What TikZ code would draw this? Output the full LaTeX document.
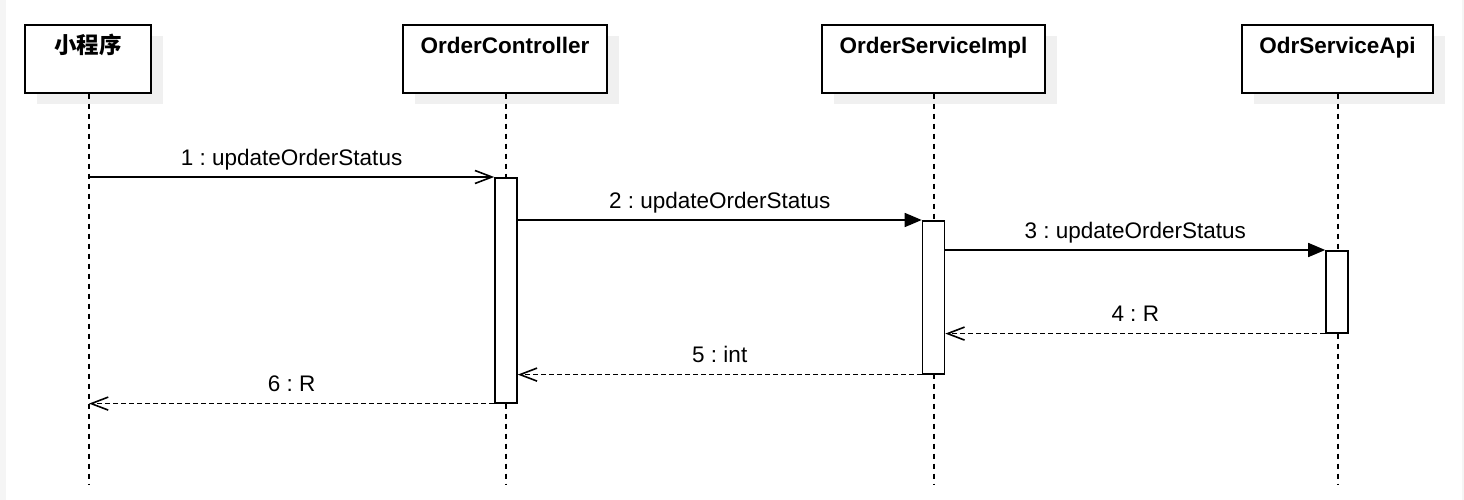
\documentclass[tikz,border=0pt]{standalone}
\usepackage{fontspec}
\setmainfont{Liberation Sans}
\newfontfamily\cjk{Noto Sans CJK SC}
\usetikzlibrary{arrows.meta}
\frenchspacing
\begin{document}
\begin{tikzpicture}[x=1pt,y=-1pt,
  part/.style={draw=black, line width=1.6pt, fill=white, minimum height=68pt, inner sep=0pt, anchor=north},
  shadowbox/.style={fill=black!6, draw=none, minimum height=68pt, inner sep=0pt, anchor=north},
  ptext/.style={anchor=base, inner sep=0pt, font=\fontsize{22.5}{27}\selectfont\bfseries},
  lifeline/.style={line width=1.5pt, dash pattern=on 5pt off 5pt},
  act/.style={draw=black, line width=1.6pt, fill=white, minimum width=22pt, inner sep=0pt, anchor=north},
  msg/.style={line width=1.6pt},
  callmsg/.style={msg, -{Triangle[length=17pt, width=14pt]}},
  asyncmsg/.style={msg, -{Straight Barb[length=17pt, width=13pt]}},
  retmsg/.style={msg, dash pattern=on 5pt off 3pt, -{Straight Barb[length=17pt, width=13pt]}},
  lbl/.style={midway, anchor=base, yshift=12pt, inner sep=0pt, font=\fontsize{22.5}{27}\selectfont\frenchspacing}]
\useasboundingbox (0,0) rectangle (1464,500);
\fill[black!4] (0,0) rectangle (6,500);
\fill[black!4] (1462,0) rectangle (1464,500);

% shadows
\node[shadowbox, minimum width=126pt] (s1) at (100,36) {};
\node[shadowbox, minimum width=204pt] (s2) at (517,36) {};
\node[shadowbox, minimum width=223pt] (s3) at (945.5,36) {};
\node[shadowbox, minimum width=191pt] (s4) at (1349.5,36) {};

% participants
\node[part, minimum width=126pt] (b1) at (88,24) {};
\node[part, minimum width=204pt] (b2) at (505,24) {};
\node[part, minimum width=223pt] (b3) at (933.5,24) {};
\node[part, minimum width=191pt] (b4) at (1337.5,24) {};
\node[ptext] (t1) at (88,54) {\cjk\bfseries 小程序};
\node[ptext] (t2) at (505,54) {OrderController};
\node[ptext] (t3) at (933.5,54) {OrderServiceImpl};
\node[ptext] (t4) at (1337.5,54) {OdrServiceApi};

% lifeline ends
\coordinate (e1) at (89,485);
\coordinate (e2) at (506,485);
\coordinate (e3) at (934,485);
\coordinate (e4) at (1338,485);
\draw[lifeline] (b1.south -| e1) -- (e1);
\draw[lifeline] (b2.south -| e2) -- (e2);
\draw[lifeline] (b3.south -| e3) -- (e3);
\draw[lifeline] (b4.south -| e4) -- (e4);

% activations
\node[act, minimum height=225pt] (a1) at (506,177) {};
\node[act, minimum height=153pt] (a2) at (933.5,220) {};
\node[act, minimum height=82pt] (a3) at (1337,250) {};

% messages
\draw[asyncmsg] (e1 |- a1.north west) -- node[lbl] (m1) {1 : updateOrderStatus} (a1.north west);
\draw[callmsg] (a1.east |- a2.north west) -- node[lbl] (m2) {2 : updateOrderStatus} (a2.north west);
\draw[callmsg] (a2.east |- a3.north west) -- node[lbl] (m3) {3 : updateOrderStatus} (a3.north west);
\draw[retmsg] (a3.south west) -- node[lbl] (m4) {4 : R} (a2.east |- a3.south west);
\draw[retmsg] (a2.south west) -- node[lbl] (m5) {5 : int} (a1.east |- a2.south west);
\draw[retmsg] (a1.south west) -- node[lbl] (m6) {6 : R} (e1 |- a1.south west);
\end{tikzpicture}
\end{document}
